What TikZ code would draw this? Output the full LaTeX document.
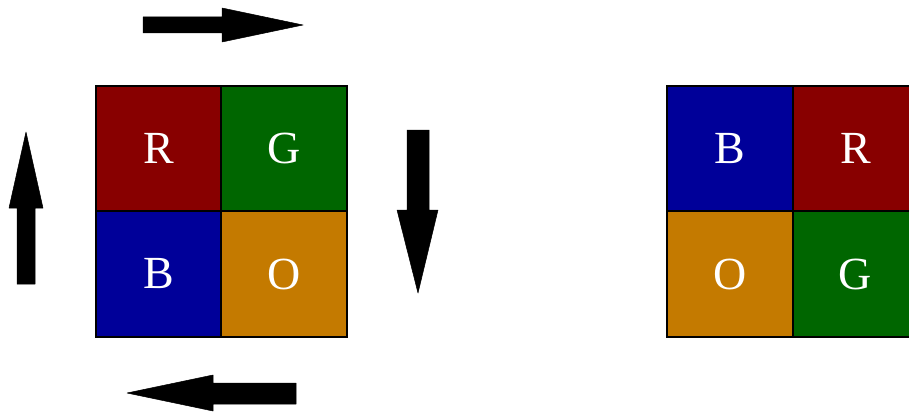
\documentclass[tikz,border=0pt]{standalone}
\usepackage{fontspec}
\setmainfont{Liberation Serif}
\definecolor{cred}{RGB}{136,0,0}
\definecolor{cgreen}{RGB}{0,102,0}
\definecolor{cblue}{RGB}{0,0,153}
\definecolor{corange}{RGB}{196,122,0}
\begin{document}
\begin{tikzpicture}[x=1pt,y=-1pt,
  cell/.style={draw=black, line width=1.8pt, minimum size=125.5pt, inner sep=0pt,
    text=white, font=\fontsize{46}{50}\selectfont},
  bigarrow/.style={fill=black, draw=black, line width=0.5pt, line join=round}]
\clip (0,0) rectangle (909,412);
\fill[white] (0,0) rectangle (909,412);
% left grid
\node[cell, fill=cred]    (lr) at (158.5,148.5) {R};
\node[cell, fill=cgreen]  (lg) at (284,148.5) {G};
\node[cell, fill=cblue]   (lb) at (158.5,274) {B};
\node[cell, fill=corange] (lo) at (284,274) {O};
% right grid
\node[cell, fill=cblue]   (rb) at (730,148.5) {B};
\node[cell, fill=cred]    (rr) at (855.5,148.5) {R};
\node[cell, fill=corange] (ro) at (730,274) {O};
\node[cell, fill=cgreen]  (rg) at (855.5,274) {G};
% arrows
\fill[bigarrow] (143,17) -- (222,17) -- (222,8) -- (303,25) -- (222,42) -- (222,33) -- (143,33) -- cycle;
\fill[bigarrow] (407,130) -- (429,130) -- (429,210) -- (438,210) -- (418,293) -- (397,210) -- (407,210) -- cycle;
\fill[bigarrow] (296,383) -- (213,383) -- (213,375) -- (127,393) -- (213,411) -- (213,404) -- (296,404) -- cycle;
\fill[bigarrow] (17,284) -- (35,284) -- (35,208) -- (43,208) -- (26,132) -- (9,208) -- (17,208) -- cycle;
\end{tikzpicture}
\end{document}
